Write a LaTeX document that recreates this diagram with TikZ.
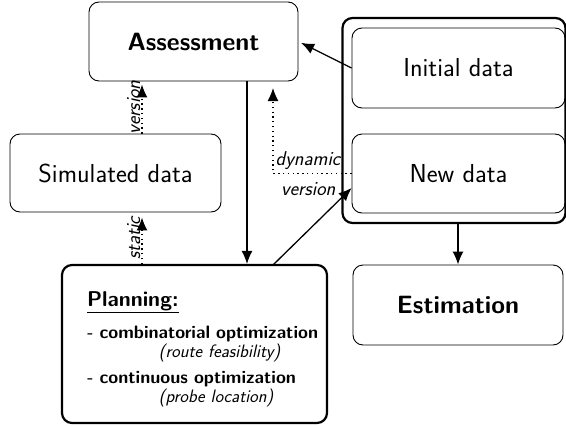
\documentclass[tikz,border=0pt]{standalone}
\usepackage{fontspec}
\usetikzlibrary{arrows.meta}
\newcommand{\fsz}[1]{\fontsize{#1}{1.2\dimexpr#1pt\relax}\selectfont}
\begin{document}
\begin{tikzpicture}[x=1pt,y=-1pt,>={Latex[length=13pt,width=11pt]},
  block/.style={rectangle, draw, line width=0.9pt, rounded corners=10pt, align=center, inner sep=0pt, font=\sffamily\fsz{26}},
  bigblock/.style={block, line width=2.2pt},
  link/.style={line width=1.3pt},
  dots/.style={line width=1.3pt, dash pattern=on 1.3pt off 3.5pt},
  tag/.style={font=\sffamily\itshape\fsz{20}, inner sep=1pt}]
\useasboundingbox (0,0) rectangle (566,426);
\draw (454,120.5) node[bigblock, minimum width=223pt, minimum height=205pt] (data) {};
\draw (193.5,41.5) node[block, minimum width=209pt, minimum height=79pt] (assess) {\fsz{25}\bfseries Assessment};
\draw (115.5,173) node[block, minimum width=211pt, minimum height=78pt] (sim) {Simulated data};
\draw (458.5,68) node[block, minimum width=213pt, minimum height=80pt] (init) {Initial data};
\draw (458.5,173.5) node[block, minimum width=213pt, minimum height=79pt] (new) {New data};
\draw (458,305) node[block, minimum width=210pt, minimum height=80pt] (estim) {\fsz{25}\bfseries Estimation};
\draw (194.5,344) node[bigblock, minimum width=265pt, minimum height=158pt, align=left, inner xsep=2.5pt, text width=260pt, font=\sffamily\fontsize{18}{19}\selectfont] (plan) {%
  \leftskip=22.5pt\hyphenpenalty=10000
  \rule{0pt}{25pt}{\fontsize{21.4}{19}\selectfont\bfseries\underline{Planning:}}\\[13pt]
  \textbf{- combinatorial optimization}\\
  \hspace*{72pt}\textit{(route feasibility)}\\[7pt]
  \textbf{- continuous optimization}\\
  \hspace*{72pt}\textit{(probe location)}\par};
% helper points
\coordinate (s1) at (142,0);
\coordinate (v1) at (247,0);
\coordinate (d1) at (273,88);
\coordinate (p1) at (273,265);
% solid links
\draw[link,->] (assess.south -| v1) -- (plan.north -| v1);
\draw[link,->,shorten >=3pt] (init.west) -- (assess.east);
\draw[link,->] (p1) -- ([yshift=-14.5pt]new.west);
\draw[link,->] (data.south -| estim.north) -- (estim.north);
% dotted links
\draw[dots,->,shorten >=3pt] (sim.north -| s1) -- node[tag, rotate=90, anchor=south] {version} (assess.south -| s1);
\draw[dots,->,shorten >=5pt] (plan.north -| s1) -- node[tag, rotate=90, anchor=south] {static} (sim.south -| s1);
\draw[dots,->] (new.west) -| (d1);
\node[tag, anchor=base east] (dyn) at ([xshift=-10pt,yshift=8.5pt]new.west) {dynamic};
\node[tag, anchor=base east] (ver) at ([xshift=-15pt,yshift=-21.5pt]new.west) {version};
\end{tikzpicture}
\end{document}
